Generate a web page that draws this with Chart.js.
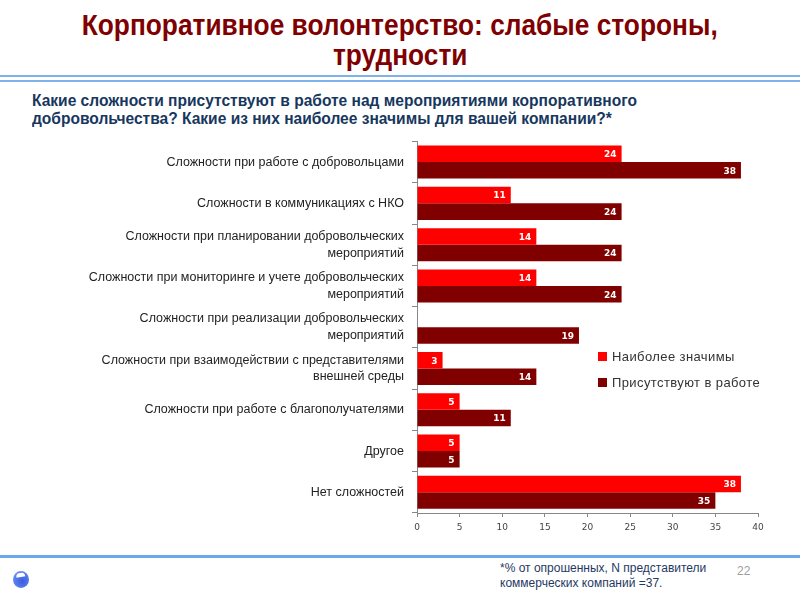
<!DOCTYPE html>
<html>
<head>
<meta charset="utf-8">
<script src="https://cdn.jsdelivr.net/npm/chart.js@4.4.0/dist/chart.umd.min.js"></script>
<style>
  html, body { margin:0; padding:0; background:#fff; }
  #page { position:relative; width:800px; height:600px; overflow:hidden; background:#fff; }
  .tline { position:absolute; left:0; width:800px; text-align:center; color:#7f0000;
    font-family:"Liberation Sans",Arial,sans-serif; font-weight:bold; font-size:29px; line-height:30px; }
  .tline span, .sline span { display:inline-block; white-space:nowrap; }
  .hline { position:absolute; left:0; width:800px; height:2px; background:#7db2ea; }
  .sline { position:absolute; left:32px; color:#17375e; font-family:"Liberation Sans",Arial,sans-serif;
    font-weight:bold; font-size:16px; line-height:18px; }
  .sline span { transform-origin:0 50%; }
  .legend { position:absolute; left:598px; font-family:"Liberation Sans",Arial,sans-serif;
    font-size:13px; color:#333; letter-spacing:0.4px; }
  .legend span.sw { display:inline-block; width:9px; height:9px; margin-right:5px; vertical-align:0px; }
  .foot { position:absolute; left:500px; top:561px; color:#1f3864;
    font-family:"Liberation Sans",Arial,sans-serif; font-size:12px; line-height:15px; }
  .pnum { position:absolute; left:737px; top:564px; color:#a0a0a0;
    font-family:"Liberation Sans",Arial,sans-serif; font-size:12px; }
  .logo { position:absolute; left:13px; top:571px; width:16px; height:17px; border-radius:50%;
    background:radial-gradient(circle at 60% 60%, #3b5be0 0%, #5a80ee 60%, #9ab4f4 100%); }
  .logo:after { content:""; position:absolute; left:3px; top:2px; width:9px; height:4px; background:#fff; border-radius:4px 4px 0 0; transform:rotate(-10deg); }
  #wrap { position:absolute; left:0; top:125px; width:800px; height:420px; }
</style>
</head>
<body>
<div id="page">
  <div class="tline" style="top:10px"><span id="t1">Корпоративное волонтерство: слабые стороны,</span></div>
  <div class="tline" style="top:40px"><span id="t2">трудности</span></div>
  <div class="hline" style="top:75px"></div>
  <div class="hline" style="top:80px"></div>
  <div class="sline" style="top:92px"><span id="s1">Какие сложности присутствуют в работе над мероприятиями корпоративного</span></div>
  <div class="sline" style="top:110px"><span id="s2">добровольчества? Какие из них наиболее значимы для вашей компании?*</span></div>
  <div id="wrap"><canvas id="c" width="800" height="420"></canvas></div>
  <div class="legend" style="top:349px"><span class="sw" style="background:#ff0000"></span>Наиболее значимы</div>
  <div class="legend" style="top:375px"><span class="sw" style="background:#800000"></span>Присутствуют в работе</div>
  <div class="hline" style="top:555px;height:3px;background:#6aaae6"></div>
  <div class="logo"></div>
  <div class="foot">*% от опрошенных, N представители<br>коммерческих компаний =37.</div>
  <div class="pnum">22</div>
</div>
<script>
const categories = [
  "Сложности при работе с добровольцами",
  "Сложности в коммуникациях с НКО",
  ["Сложности при планировании добровольческих", "мероприятий"],
  ["Сложности при мониторинге и учете добровольческих", "мероприятий"],
  ["Сложности при реализации добровольческих", "мероприятий"],
  ["Сложности при взаимодействии с представителями", "внешней среды"],
  "Сложности при работе с благополучателями",
  "Другое",
  "Нет сложностей"
];
const seriesNames = ["Наиболее значимы", "Присутствуют в работе"];
const mostImportant = [24, 11, 14, 14, 0, 3, 5, 5, 38];
const present = [38, 24, 24, 24, 19, 14, 11, 5, 35];
const xTicks = [0, 5, 10, 15, 20, 25, 30, 35, 40];

// condense title and subtitle horizontally (narrow face of the original)
function condense(firstId, secondId, targetWidth) {
  const a = document.getElementById(firstId), b = document.getElementById(secondId);
  const k = targetWidth / a.getBoundingClientRect().width;
  a.style.transform = b.style.transform = 'scaleX(' + k + ')';
}
condense('t1', 't2', 636);
condense('s1', 's2', 605);

const barLabels = {
  id: 'barLabels',
  afterDatasetsDraw(chart) {
    const ctx = chart.ctx;
    ctx.save();
    ctx.fillStyle = '#fff';
    ctx.font = 'bold 9px "DejaVu Sans", sans-serif';
    ctx.textAlign = 'right';
    ctx.textBaseline = 'middle';
    chart.data.datasets.forEach((ds, di) => {
      chart.getDatasetMeta(di).data.forEach((el, i) => {
        const v = ds.data[i];
        if (!v) return;
        ctx.fillText(String(v), el.x - 5, el.y + 1);
      });
    });
    ctx.restore();
  }
};

new Chart(document.getElementById('c'), {
  type: 'bar',
  data: {
    labels: categories,
    datasets: [
      { label: seriesNames[0], data: mostImportant, backgroundColor: '#ff0000', categoryPercentage: 0.8, barPercentage: 1.0 },
      { label: seriesNames[1], data: present, backgroundColor: '#800000', categoryPercentage: 0.8, barPercentage: 1.0 }
    ]
  },
  options: {
    indexAxis: 'y',
    responsive: false,
    animation: false,
    layout: { padding: { top: 8, right: 42, bottom: 0, left: 0 } },
    plugins: { legend: { display: false }, tooltip: { enabled: false } },
    scales: {
      x: {
        min: 0, max: 40,
        afterBuildTicks: (s) => { s.ticks = xTicks.map(v => ({ value: v })); },
        afterFit: (s) => { s.height = 32; },
        grid: { drawOnChartArea: false, drawTicks: true, tickLength: 4, color: '#888' },
        border: { color: '#888' },
        ticks: { color: '#444', font: { size: 9, family: '"DejaVu Sans", sans-serif' }, padding: 5 }
      },
      y: {
        afterFit: (s) => { s.width = 417; },
        grid: { drawOnChartArea: false, drawTicks: true, tickLength: 5, color: '#888', offset: true },
        border: { color: '#888' },
        ticks: { color: '#222', font: { size: 12.5, family: '"Liberation Sans", Arial, sans-serif', lineHeight: 1.35 }, padding: 8 }
      }
    }
  },
  plugins: [barLabels]
});
</script>
</body>
</html>
